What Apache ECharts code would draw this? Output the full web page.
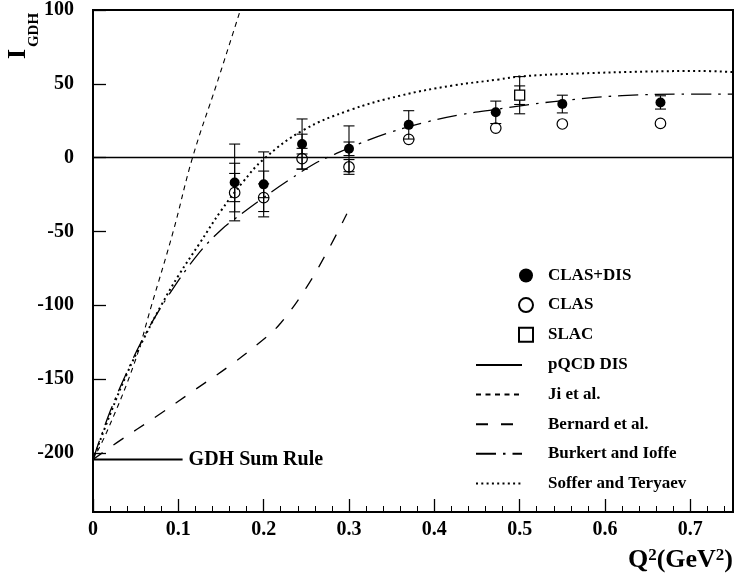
<!DOCTYPE html>
<html>
<head>
<meta charset="utf-8">
<script src="https://cdn.jsdelivr.net/npm/echarts@6/dist/echarts.min.js"></script>
<style>
  html, body { margin: 0; padding: 0; background: #fff; }
  #chart { width: 735px; height: 580px; }
</style>
</head>
<body>
<div id="chart"></div>
<script>
// Q² (GeV²) of the CLAS points
const q2Clas = [0.166, 0.200, 0.245, 0.300, 0.370, 0.472, 0.550, 0.665];
// CLAS resonance data plus DIS contribution
const iClasDis = [-16.8, -18.1, 9.2, 6.0, 22.2, 30.7, 36.3, 37.4];
const errClasDisTotal = [26, 22, 17, 15.5, 9.6, 7.6, 6.0, 4.5];
const errClasDisStat = [13, 9, 6.7, 4.6, 0, 0, 0, 0];
// CLAS resonance region only
const iClas = [-23.7, -27.1, -0.7, -6.3, 12.4, 20.0, 22.8, 23.2];
const errClas = [13, 9.4, 7, 5, 0, 0, 0, 0];
// SLAC
const q2Slac = [0.500];
const iSlac = [42.3];
const errSlacTotal = [12.6];
const errSlacStat = [6.3];

// model curves
const jiQ2 = [0, 0.016, 0.048, 0.0686, 0.094, 0.1166, 0.145, 0.1727];
const jiI = [-204.5, -186, -140, -100, -50, 0, 50, 100];

const bernardQ2 = [0, 0.028, 0.075, 0.12, 0.16, 0.2, 0.22, 0.25, 0.277, 0.2975];
const bernardI = [-204.5, -193, -175, -157, -141, -123, -112, -88, -61, -38];

const burkertQ2 = [0, 0.02, 0.04, 0.06, 0.09, 0.125, 0.15, 0.165, 0.2, 0.23, 0.26, 0.28, 0.31, 0.35, 0.39, 0.43, 0.47, 0.54, 0.62, 0.70, 0.75];
const burkertI = [-204.5, -172, -145, -121, -92, -64, -49, -42, -27, -15, -4, 1.5, 9, 17.5, 24, 29, 32.5, 38, 42, 43, 43];

const sofferQ2 = [0, 0.02, 0.04, 0.06, 0.08, 0.1, 0.125, 0.15, 0.175, 0.2, 0.246, 0.3, 0.36, 0.42, 0.476, 0.5, 0.57, 0.65, 0.71, 0.75];
const sofferI = [-204.5, -174, -146, -122, -100, -80, -58, -36, -17, -1, 18.5, 32, 42, 48.7, 53, 55, 57, 58.3, 58.7, 58];

// GDH sum rule at the real photon point
const gdhSumRule = -204.5;
const gdhLineQ2 = [0, 0.105];

const xTickValues = [0, 0.1, 0.2, 0.3, 0.4, 0.5, 0.6, 0.7];
const yTickValues = [-200, -150, -100, -50, 0, 50, 100];

const FONT = '"Liberation Serif", "Times New Roman", serif';

const pairs = (xs, ys) => xs.map((x, i) => [x, ys[i]]);

function errorBarItem(params, api) {
  const x = api.value(0), y = api.value(1);
  const eOuter = api.value(2), eInner = api.value(3);
  const hw = 5.5;
  const style = { stroke: '#000', lineWidth: 1.1 };
  const children = [];
  const addBar = (e) => {
    const top = api.coord([x, y + e]);
    const bot = api.coord([x, y - e]);
    children.push({ type: 'line', shape: { x1: top[0], y1: top[1], x2: bot[0], y2: bot[1] }, style });
    children.push({ type: 'line', shape: { x1: top[0] - hw, y1: top[1], x2: top[0] + hw, y2: top[1] }, style });
    children.push({ type: 'line', shape: { x1: bot[0] - hw, y1: bot[1], x2: bot[0] + hw, y2: bot[1] }, style });
  };
  if (eOuter > 0) addBar(eOuter);
  if (eInner > 0) addBar(eInner);
  return { type: 'group', children };
}

const curveStyle = (dash, width) => ({ color: '#000', width: width, type: dash, cap: 'butt' });
const legendText = (padLeft) => ({
  fontFamily: FONT, fontWeight: 'bold', fontSize: 17, lineHeight: 17, color: '#000', padding: [0, 0, 0, padLeft]
});

const chart = echarts.init(document.getElementById('chart'), null, { renderer: 'canvas' });

chart.setOption({
  animation: false,
  backgroundColor: '#fff',
  color: ['#000'],
  grid: { left: 93, right: 2, top: 8, bottom: 68, show: true, borderColor: '#000', borderWidth: 2, backgroundColor: 'transparent' },
  xAxis: {
    type: 'value', min: 0, max: 0.75, interval: 0.1,
    axisLine: { onZero: false, lineStyle: { color: '#000', width: 2 } },
    axisTick: { inside: true, length: 13, lineStyle: { color: '#000', width: 1.3 }, customValues: xTickValues },
    minorTick: { show: true, splitNumber: 5, length: 6, lineStyle: { color: '#000', width: 1 } },
    splitLine: { show: false },
    axisLabel: {
      customValues: xTickValues, margin: 8,
      fontFamily: FONT, fontWeight: 'bold', fontSize: 20, color: '#000',
      formatter: v => (v === 0 ? '0' : v.toFixed(1))
    }
  },
  yAxis: {
    type: 'value', min: -240, max: 100,
    axisLine: { onZero: false, lineStyle: { color: '#000', width: 2 } },
    axisTick: { inside: true, length: 13, lineStyle: { color: '#000', width: 1.3 }, customValues: yTickValues },
    splitLine: { show: false },
    axisLabel: {
      customValues: yTickValues, margin: 19,
      fontFamily: FONT, fontWeight: 'bold', fontSize: 20, color: '#000',
      formatter: v => String(v)
    }
  },
  legend: [
    {
      orient: 'vertical', left: 518, top: 267, padding: 0,
      itemWidth: 14, itemHeight: 14, itemGap: 12.6, selectedMode: false,
      data: ['CLAS+DIS', 'CLAS', 'SLAC'],
      textStyle: legendText(10)
    },
    {
      orient: 'vertical', left: 475, top: 356.5, padding: 0,
      itemWidth: 46, itemHeight: 14, itemGap: 12.6, selectedMode: false,
      itemStyle: { color: 'rgba(0,0,0,0)', borderWidth: 0, opacity: 0 },
      data: ['pQCD DIS', 'Ji et al.', 'Bernard et al.', 'Burkert and Ioffe', 'Soffer and Teryaev'],
      textStyle: legendText(21)
    }
  ],
  graphic: [
    {
      type: 'text', x: 18, y: 54, rotation: Math.PI / 2,
      style: { text: 'I', font: 'bold 26px ' + FONT, fill: '#000', align: 'center', verticalAlign: 'middle' }
    },
    {
      type: 'text', x: 34, y: 30, rotation: Math.PI / 2,
      style: { text: 'GDH', font: 'bold 15px ' + FONT, fill: '#000', align: 'center', verticalAlign: 'middle' }
    },
    {
      type: 'text', right: 2, top: 547,
      style: {
        text: '{q|Q}{s|2}{q|(GeV}{s|2}{q|)}',
        fill: '#000',
        rich: {
          q: { fontFamily: FONT, fontWeight: 'bold', fontSize: 26, lineHeight: 26 },
          s: { fontFamily: FONT, fontWeight: 'bold', fontSize: 17, lineHeight: 17, verticalAlign: 'top' }
        }
      }
    }
  ],
  series: [
    {
      name: 'pQCD DIS', type: 'line', symbol: 'none', data: [],
      itemStyle: { color: '#000' }, lineStyle: curveStyle('solid', 2)
    },
    {
      name: 'Ji et al.', type: 'line', symbol: 'none', smooth: 0.4, z: 3,
      itemStyle: { color: '#000' },
      data: pairs(jiQ2, jiI), lineStyle: curveStyle([5, 4.5], 1.1)
    },
    {
      name: 'Bernard et al.', type: 'line', symbol: 'none', smooth: 0.4, z: 3,
      itemStyle: { color: '#000' },
      data: pairs(bernardQ2, bernardI), lineStyle: curveStyle([12, 13], 1.3)
    },
    {
      name: 'Burkert and Ioffe', type: 'line', symbol: 'none', smooth: 0.4, z: 3,
      itemStyle: { color: '#000' },
      data: pairs(burkertQ2, burkertI), lineStyle: curveStyle([20, 7, 2.5, 7], 1.3)
    },
    {
      name: 'Soffer and Teryaev', type: 'line', symbol: 'none', smooth: 0.4, z: 3,
      itemStyle: { color: '#000' },
      data: pairs(sofferQ2, sofferI), lineStyle: curveStyle([2, 3.3], 2)
    },
    {
      name: 'GDH Sum Rule', type: 'line', symbol: 'none', z: 3,
      itemStyle: { color: '#000' },
      data: gdhLineQ2.map(q => [q, gdhSumRule]),
      lineStyle: curveStyle('solid', 2),
      endLabel: {
        show: true, formatter: 'GDH Sum Rule', distance: 6,
        fontFamily: FONT, fontWeight: 'bold', fontSize: 20, color: '#000'
      }
    },
    {
      name: 'CLAS+DIS errors', type: 'custom', z: 4, renderItem: errorBarItem,
      data: q2Clas.map((q, i) => [q, iClasDis[i], errClasDisTotal[i], errClasDisStat[i]])
    },
    {
      name: 'CLAS errors', type: 'custom', z: 4, renderItem: errorBarItem,
      data: q2Clas.map((q, i) => [q, iClas[i], errClas[i], 0])
    },
    {
      name: 'SLAC errors', type: 'custom', z: 4, renderItem: errorBarItem,
      data: q2Slac.map((q, i) => [q, iSlac[i], errSlacTotal[i], errSlacStat[i]])
    },
    {
      name: 'CLAS+DIS', type: 'scatter', symbol: 'circle', symbolSize: 10, z: 5,
      itemStyle: { color: '#000', borderColor: '#000', borderWidth: 0, opacity: 1 },
      data: pairs(q2Clas, iClasDis),
      markLine: {
        silent: true, symbol: ['none', 'none'], label: { show: false },
        lineStyle: { color: '#000', width: 1.3, type: 'solid' },
        data: [{ yAxis: 0 }]
      }
    },
    {
      name: 'CLAS', type: 'scatter', symbol: 'circle', symbolSize: 10.5, z: 5,
      itemStyle: { color: 'rgba(0,0,0,0)', borderColor: '#000', borderWidth: 1.2, opacity: 1 },
      data: pairs(q2Clas, iClas)
    },
    {
      name: 'SLAC', type: 'scatter', symbol: 'rect', symbolSize: 10, z: 5,
      itemStyle: { color: '#fff', borderColor: '#000', borderWidth: 1.3, opacity: 1 },
      data: pairs(q2Slac, iSlac)
    }
  ]
});
</script>
</body>
</html>
